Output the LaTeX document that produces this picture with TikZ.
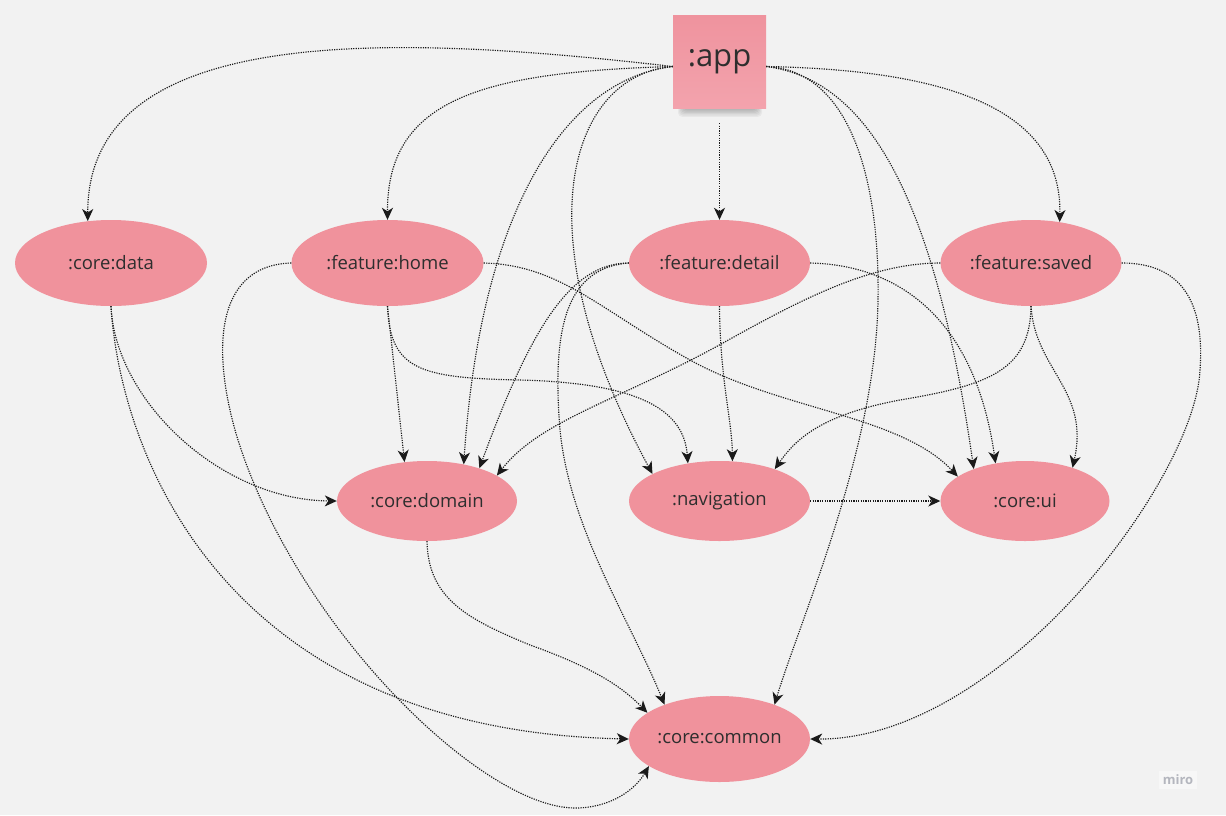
\documentclass[tikz,border=0pt]{standalone}
\usepackage{fontspec}
\setmainfont{Open Sans}
\usetikzlibrary{shapes.geometric,arrows.meta}
\definecolor{bg}{HTML}{F2F2F2}
\definecolor{nodepink}{HTML}{F0929C}
\definecolor{stickytop}{HTML}{EF939E}
\definecolor{stickybot}{HTML}{F3A3AD}
\definecolor{linec}{HTML}{1A1A1A}
\definecolor{txt}{HTML}{2E2E2E}
\definecolor{mirogray}{HTML}{B4B6BE}
\tikzset{
  ell/.style={ellipse, fill=nodepink, inner sep=0pt, text=txt, font=\fontsize{18.5}{22}\selectfont},
  dep/.style={draw=linec, line width=1.15pt, dash pattern=on 1.2pt off 1.2pt,
              -{Stealth[length=12pt,width=11pt,inset=3.5pt]}},
}
\begin{document}
\begin{tikzpicture}[x=1pt,y=-1pt]
\fill[bg] (0,0) rectangle (1226,815);
\useasboundingbox (0,0) rectangle (1226,815);

% sticky shadow
\foreach \i in {0,...,6}
  \fill[black, opacity=0.045, rounded corners=4pt] (684-\i,98) rectangle (756+\i,109+1.3*\i);
\node[minimum width=93pt, minimum height=93pt, inner sep=0pt, top color=stickytop, bottom color=stickybot,
      text=txt, font=\fontsize{31}{36}\selectfont] (app) at (719.5,61.5) {:app};

\node[ell, minimum width=192pt, minimum height=86pt] (cdata)   at (111,263)   {:core:data};
\node[ell, minimum width=192pt, minimum height=86pt] (fhome)   at (387.5,263) {:feature:home};
\node[ell, minimum width=181pt, minimum height=86pt] (fdetail) at (719.5,263) {:feature:detail};
\node[ell, minimum width=181pt, minimum height=86pt] (fsaved)  at (1031,263)  {:feature:saved};
\node[ell, minimum width=180pt, minimum height=80pt] (cdomain) at (427,501)   {:core:domain};
\node[ell, minimum width=181pt, minimum height=80pt] (nav)     at (719.5,501) {:navigation};
\node[ell, minimum width=169pt, minimum height=80pt] (cui)     at (1025,501)  {:core:ui};
\node[ell, minimum width=181pt, minimum height=86pt] (ccommon) at (719.5,739) {:core:common};

\node[font=\bfseries\fontsize{13}{15}\selectfont, text=mirogray, fill=white!40!bg, inner sep=4pt] (miro) at (1178,780) {miro};

\coordinate (appL) at ([yshift=-5pt]app.west);
\coordinate (appR) at ([yshift=-5pt]app.east);

% from :app
\draw[dep] (appL) .. controls (400,35) and (87,20) .. (cdata.119);
\draw[dep] (appL) .. controls (480,72) and (387,100) .. (fhome.north);
\draw[dep, shorten <=15pt] (app.south) -- (fdetail.north);
\draw[dep] (appR) .. controls (950,70) and (1062,110) .. (fsaved.55);
\draw[dep] (appL) .. controls (560,80) and (480,220) .. (cdomain.45);
\draw[dep] (appL) .. controls (570,75) and (520,230) .. (nav.158);
\draw[dep] (appR) .. controls (870,80) and (935,200) .. (cui.148);
\draw[dep] (appR) .. controls (850,70) and (880,180) .. (878,300) .. controls (876,450) and (800,620) .. (ccommon.32);

% from :core:data
\draw[dep] (cdata.south) .. controls (115,400) and (220,500) .. (cdomain.west);
\draw[dep] (cdata.south) .. controls (120,450) and (220,730) .. (ccommon.west);

% from :feature:home
\draw[dep] (fhome.west) .. controls (220,265) and (210,340) .. (235,430) .. controls (290,620) and (480,808) .. (575,808) .. controls (610,808) and (635,790) .. (ccommon.201);
\draw[dep] (fhome.south) -- (cdomain.120);
\draw[dep] (fhome.south) .. controls (390,370) and (420,378) .. (520,380) .. controls (640,383) and (684,410) .. (nav.130);
\draw[dep] (fhome.east) .. controls (560,265) and (600,310) .. (690,360) .. controls (780,410) and (900,415) .. (cui.160);

% from :feature:detail
\draw[dep] (fdetail.west) .. controls (570,263) and (530,330) .. (cdomain.32);
\draw[dep] (fdetail.west) .. controls (565,268) and (552,330) .. (560,430) .. controls (570,530) and (630,620) .. (ccommon.148);
\draw[dep] (fdetail.south) .. controls (720,380) and (732,420) .. (nav.72);
\draw[dep] (fdetail.east) .. controls (900,265) and (975,320) .. (cui.128);

% from :feature:saved
\draw[dep] (fsaved.west) .. controls (870,263) and (800,300) .. (723,343) .. controls (620,400) and (540,420) .. (cdomain.20);
\draw[dep] (fsaved.south) .. controls (1030,370) and (990,385) .. (900,400) .. controls (820,415) and (795,440) .. (nav.30);
\draw[dep] (fsaved.south) .. controls (1035,370) and (1090,390) .. (cui.35);
\draw[dep] (fsaved.east) .. controls (1180,263) and (1205,300) .. (1200,370) .. controls (1195,480) and (1000,740) .. (ccommon.east);

% others
\draw[dep] (nav.east) -- (cui.west);
\draw[dep] (cdomain.south) .. controls (428,600) and (470,620) .. (530,645) .. controls (600,670) and (625,690) .. (ccommon.160);
\end{tikzpicture}
\end{document}
